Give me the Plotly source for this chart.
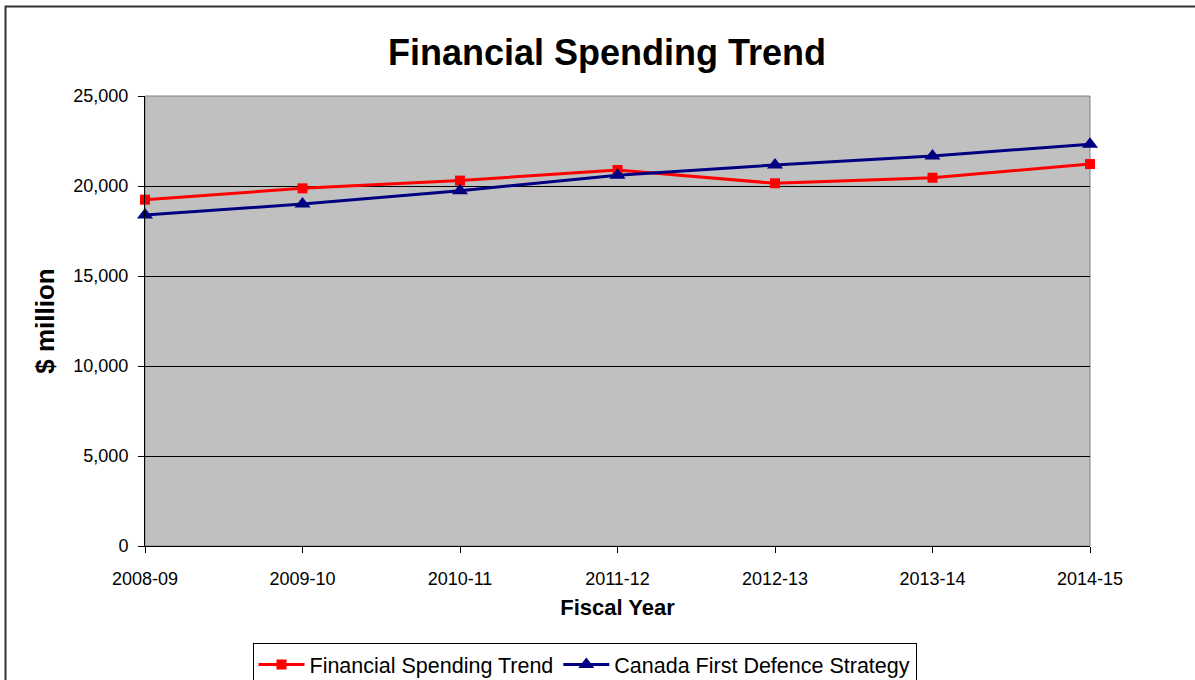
import plotly.graph_objects as go

years = ["2008-09", "2009-10", "2010-11", "2011-12", "2012-13", "2013-14", "2014-15"]
financial_spending = [19240, 19870, 20300, 20890, 20150, 20460, 21220]
cfds = [18390, 19000, 19740, 20600, 21170, 21670, 22320]
y_ticks = [0, 5000, 10000, 15000, 20000, 25000]

FONT = "Liberation Sans, Arial, sans-serif"

W, H = 1195, 712
L, R, T = 145, 105, 96
PW, PH = W - L - R, 450
B = H - T - PH


def px_x(p):
    return (p - L) / PW


def px_y(p):
    return (T + PH - p) / PH


fig = go.Figure()
fig.add_trace(go.Scatter(
    x=years, y=financial_spending, name="Financial Spending Trend",
    mode="lines+markers",
    line=dict(color="#FF0000", width=3),
    marker=dict(symbol="square", size=10, color="#FF0000"),
    cliponaxis=False,
))
fig.add_trace(go.Scatter(
    x=years, y=cfds, name="Canada First Defence Strategy",
    mode="lines+markers",
    line=dict(color="#000080", width=3),
    marker=dict(symbol="triangle-up", size=14, color="#000080"),
    cliponaxis=False,
))

fig.update_layout(
    width=W, height=H,
    margin=dict(l=L, r=R, t=T, b=B),
    paper_bgcolor="white",
    plot_bgcolor="#C0C0C0",
    font=dict(family=FONT, color="black", size=18),
    title=dict(text="<b>Financial Spending Trend</b>", x=607 / W, xanchor="center",
               y=1 - 52 / H, yanchor="middle", font=dict(size=36, family=FONT)),
    xaxis=dict(
        type="category", range=[0, 6], showgrid=False,
        showline=True, linecolor="black", linewidth=1,
        ticks="outside", ticklen=6, tickcolor="black",
        tickfont=dict(size=18), ticklabelstandoff=10,
        title=dict(text="<b>Fiscal Year</b>", font=dict(size=22), standoff=12),
    ),
    yaxis=dict(
        range=[0, 25000], tickvals=y_ticks, tickformat=",d",
        showgrid=True, gridcolor="#000000", gridwidth=1,
        showline=True, linecolor="black", linewidth=1,
        ticks="outside", ticklen=6, tickcolor="black",
        tickfont=dict(size=18), zeroline=False, ticklabelstandoff=6,
        title=dict(text="<b>$ million</b>", font=dict(size=26), standoff=11),
    ),
    legend=dict(
        orientation="h", x=px_x(584.5), xanchor="center", y=px_y(643), yanchor="top",
        bordercolor="black", borderwidth=1, bgcolor="white",
        font=dict(size=21.5), itemwidth=46,
    ),
    shapes=[
        dict(type="rect", xref="paper", yref="paper", x0=0, x1=1, y0=0, y1=1,
             line=dict(color="#808080", width=1), layer="below"),
        dict(type="rect", xref="paper", yref="paper",
             x0=px_x(5.5), x1=px_x(W + 20),
             y0=px_y(H + 20), y1=px_y(6.5),
             line=dict(color="#333333", width=2), layer="below"),
    ],
)

fig.write_html(
    "out.html",
    config={"displayModeBar": False},
    post_script="document.body.style.margin='0px';document.body.style.overflow='hidden';"
                "document.documentElement.style.overflow='hidden';",
)
